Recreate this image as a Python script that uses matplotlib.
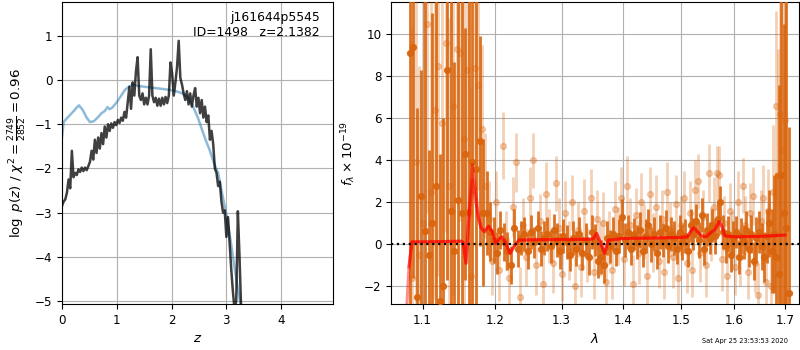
import numpy as np
import matplotlib
matplotlib.use("Agg")
import matplotlib.pyplot as plt

# ---------------- left panel: p(z) ----------------
z_grid = [0.00, 0.03, 0.06, 0.09, 0.12, 0.15, 0.18, 0.21, 0.24, 0.27,
          0.30, 0.33, 0.36, 0.39, 0.42, 0.45, 0.48, 0.51, 0.54, 0.57,
          0.60, 0.63, 0.66, 0.69, 0.72, 0.75, 0.78, 0.81, 0.84, 0.87,
          0.90, 0.93, 0.96, 0.99, 1.02, 1.05, 1.08, 1.11, 1.14, 1.17,
          1.20, 1.23, 1.26, 1.29, 1.32, 1.35, 1.38, 1.41, 1.44, 1.47,
          1.50, 1.53, 1.56, 1.59, 1.62, 1.65, 1.68, 1.71, 1.74, 1.77,
          1.80, 1.83, 1.86, 1.89, 1.92, 1.95, 1.98, 2.01, 2.04, 2.07,
          2.10, 2.13, 2.16, 2.19, 2.22, 2.25, 2.28, 2.31, 2.34, 2.37,
          2.40, 2.43, 2.46, 2.49, 2.52, 2.55, 2.58, 2.61, 2.64, 2.67,
          2.70, 2.73, 2.76, 2.79, 2.82, 2.85, 2.88, 2.91, 2.94, 2.97,
          3.00, 3.03, 3.06, 3.09, 3.12, 3.15, 3.18, 3.21, 3.24, 3.27,
          3.30]
logp_grid = [-2.85, -2.75, -2.70, -2.55, -2.25, -2.45, -1.60, -2.20, -2.10, -2.15,
             -2.02, -2.08, -1.98, -2.06, -1.98, -2.04, -1.95, -1.85, -1.60, -1.80,
             -1.35, -1.65, -1.30, -1.55, -1.20, -1.45, -1.05, -1.30, -1.00, -1.15,
             -0.98, -1.08, -0.95, -1.02, -0.90, -0.97, -0.85, -0.92, -0.72, -0.85,
             -0.50, -0.15, -0.65, -0.05, -0.35, 0.20, 0.52, -0.35, -0.45, -0.30,
             -0.55, -0.40, -0.55, -0.35, 0.70, -0.35, -0.50, -0.40, -0.58, -0.42,
             -0.58, -0.40, -0.55, -0.38, -0.52, -0.35, 0.40, 0.15, -0.35, -0.05,
             0.30, 0.89, 0.05, -0.10, -0.30, -0.45, -0.25, -0.55, -0.30, -0.60,
             -0.35, -0.18, -0.60, -0.40, -0.75, -0.45, -0.85, -0.60, -0.95, -0.80,
             -1.35, -1.15, -1.45, -2.00, -2.10, -2.40, -2.30, -2.75, -3.00, -2.95,
             -3.55, -3.10, -3.70, -4.30, -4.80, -5.20, -5.00, -2.97, -4.00, -5.20,
             -5.60]

z_templ = [0.00, 0.03, 0.10, 0.20, 0.27, 0.31, 0.38, 0.45, 0.51, 0.58,
           0.65, 0.72, 0.78, 0.83, 0.87, 0.92, 1.00, 1.08, 1.15, 1.22,
           1.30, 1.38, 1.50, 1.70, 1.90, 2.05, 2.20, 2.30, 2.40, 2.48,
           2.55, 2.62, 2.70, 2.78, 2.85, 2.92, 3.00, 3.08, 3.15, 3.22,
           3.30]
logp_templ = [-1.30, -0.95, -0.85, -0.72, -0.62, -0.57, -0.68, -0.85, -0.95, -0.93,
              -0.85, -0.75, -0.70, -0.61, -0.66, -0.62, -0.50, -0.35, -0.22, -0.15,
              -0.10, -0.13, -0.15, -0.18, -0.21, -0.24, -0.30, -0.40, -0.62, -0.85,
              -1.10, -1.35, -1.60, -1.90, -2.10, -2.55, -3.05, -3.65, -4.25, -4.80,
              -5.35]

# ---------------- right panel: spectrum ----------------
wave_a = [1.083, 1.088, 1.093, 1.098, 1.103, 1.108, 1.113, 1.118, 1.123, 1.128,
          1.133, 1.138, 1.143, 1.148, 1.153, 1.158, 1.163, 1.168, 1.173, 1.178,
          1.183, 1.188, 1.193, 1.198, 1.203, 1.208, 1.213, 1.218, 1.223, 1.228,
          1.233, 1.238, 1.243, 1.248, 1.253, 1.258, 1.263, 1.268, 1.273, 1.278,
          1.283, 1.288, 1.293, 1.298, 1.303, 1.308, 1.313, 1.318, 1.323, 1.328,
          1.333, 1.338, 1.343, 1.348, 1.353, 1.358, 1.363, 1.368, 1.373, 1.378,
          1.383, 1.388, 1.393, 1.398, 1.403, 1.408, 1.413, 1.418, 1.423, 1.428,
          1.433, 1.438, 1.443, 1.448, 1.453, 1.458, 1.463, 1.468, 1.473, 1.478,
          1.483, 1.488, 1.493, 1.498, 1.503, 1.508, 1.513, 1.518, 1.523, 1.528,
          1.533, 1.538, 1.543, 1.548, 1.553, 1.558, 1.563, 1.568, 1.573, 1.578,
          1.583, 1.588, 1.593, 1.598, 1.603, 1.608, 1.613, 1.618, 1.623, 1.628,
          1.633, 1.638, 1.643, 1.648, 1.653, 1.658, 1.663, 1.668, 1.673, 1.678,
          1.683, 1.688, 1.693, 1.698, 1.703, 1.708]
flux_a = [9.1, 9.4, -2.5, 2.3, 0.65, -0.5, 1.0, 2.8, -2.7, -2.0,
          8.3, 1.6, -0.3, 2.1, 1.5, 4.3, 1.55, 3.9, 3.6, 4.9,
          1.5, 1.5, 0.6, 0.2, -0.4, 0.7, 0.1, -0.3, -1.0, 0.8,
          -0.2, 0.3, 0.5, -0.3, 0.6, 0.1, 0.8, -0.2, 0.3, 0.5,
          -0.1, 0.7, 0.2, -0.3, 0.4, 0.1, -0.5, 0.3, -0.2, 0.5,
          -0.4, 0.2, -0.6, 0.6, 0.2, -0.8, -0.6, -1.0, 0.3, -0.1,
          0.5, -0.3, 0.4, 1.3, 0.2, 0.6, -0.2, 0.5, 0.1, 0.7,
          -0.3, 0.4, 0.9, 0.0, 0.5, -0.4, 0.6, 0.2, 0.8, -0.1,
          0.5, 0.3, -0.2, 0.6, 0.1, 0.4, -0.3, 0.9, 0.5, 1.1,
          0.2, 1.4, -0.2, 0.7, 0.3, 0.9, 0.4, 1.2, 2.0, 0.6,
          -0.1, 0.5, -0.5, 0.3, 0.6, -0.6, 0.4, 0.1, 0.7, -0.2,
          0.5, -0.8, 0.3, 0.6, -0.1, -0.6, 0.4, 1.0, -0.3, 0.5,
          -0.6, -1.4, 3.3, 1.5, 0.8, -2.3]
err_a = [14, 11, 9, 6, 12, 5, 10, 13, 7, 8,
         10, 12, 9, 10, 14, 6, 12, 9, 8, 5,
         3.5, 2.0, 1.4, 1.1, 1.0, 0.9, 0.9, 0.9, 0.9, 0.9,
         0.9, 0.8, 0.8, 0.85, 0.8, 0.75, 0.8, 0.85, 0.8, 0.8,
         0.8, 0.75, 0.8, 0.85, 0.8, 0.8, 0.75, 0.8, 0.85, 0.8,
         0.8, 0.8, 0.85, 0.8, 0.75, 0.8, 0.8, 0.85, 0.8, 0.8,
         0.8, 0.75, 0.8, 0.85, 0.8, 0.8, 0.8, 0.75, 0.8, 0.85,
         0.8, 0.8, 0.8, 0.85, 0.8, 0.75, 0.8, 0.8, 0.85, 0.8,
         0.8, 0.8, 0.75, 0.8, 0.85, 0.8, 0.8, 0.8, 0.75, 0.8,
         0.85, 0.8, 0.8, 0.8, 0.75, 0.8, 0.85, 0.8, 0.8, 0.8,
         0.8, 0.85, 0.8, 0.8, 0.75, 0.8, 0.85, 0.8, 0.9, 0.9,
         0.9, 0.9, 1.0, 1.0, 1.1, 1.2, 1.3, 1.6, 2.0, 2.8,
         4.0, 9.0, 11.0, 9.0, 12.0, 7.9]

wave_b = [1.086, 1.091, 1.096, 1.101, 1.106, 1.111, 1.116, 1.121, 1.126, 1.131,
          1.136, 1.141, 1.146, 1.151, 1.156, 1.161, 1.166, 1.171, 1.176, 1.181,
          1.186, 1.191, 1.196, 1.201, 1.206, 1.211, 1.216, 1.221, 1.226, 1.231,
          1.236, 1.241, 1.246, 1.251, 1.256, 1.261, 1.266, 1.271, 1.276, 1.281,
          1.286, 1.291, 1.296, 1.301, 1.306, 1.311, 1.316, 1.321, 1.326, 1.331,
          1.336, 1.341, 1.346, 1.351, 1.356, 1.361, 1.366, 1.371, 1.376, 1.381,
          1.386, 1.391, 1.396, 1.401, 1.406, 1.411, 1.416, 1.421, 1.426, 1.431,
          1.436, 1.441, 1.446, 1.451, 1.456, 1.461, 1.466, 1.471, 1.476, 1.481,
          1.486, 1.491, 1.496, 1.501, 1.506, 1.511, 1.516, 1.521, 1.526, 1.531,
          1.536, 1.541, 1.546, 1.551, 1.556, 1.561, 1.566, 1.571, 1.576, 1.581,
          1.586, 1.591, 1.596, 1.601, 1.606, 1.611, 1.616, 1.621, 1.626, 1.631,
          1.636, 1.641, 1.646, 1.651, 1.656, 1.661, 1.666, 1.671, 1.676, 1.681,
          1.686, 1.691, 1.696, 1.701]
flux_b = [-1.6, 3.9, -0.5, 1.0, 10.5, 2.5, 6.4, 8.5, 5.8, 9.6,
          2.8, 6.6, 9.3, 9.1, 5.0, 8.3, -1.5, 8.4, 7.6, 5.5,
          2.8, 1.2, -0.8, 2.0, -1.2, 4.7, 0.2, -1.6, 1.8, 3.9,
          -2.5, 0.9, -0.6, 2.2, 4.0, -1.0, 1.1, -1.9, 2.4, 0.4,
          -0.9, 2.9, 0.8, -1.4, 1.5, -0.3, 2.0, -2.0, 0.7, -1.1,
          1.6, -0.5, 2.2, -1.3, 1.2, -0.2, 1.0, -1.8, 0.3, -1.2,
          1.7, 0.4, 2.2, -0.7, 2.8, 0.9, -1.9, 1.4, -0.4, 2.0,
          0.6, -1.5, 2.4, 0.1, 1.8, -0.8, 1.2, -1.3, 2.5, 0.7,
          -0.6, 1.9, -1.6, 0.9, 2.2, -0.9, 1.5, -1.2, 2.6, 3.0,
          -0.4, 1.3, -1.0, 3.4, 0.5, 1.8, 3.4, 3.3, -0.7, 1.0,
          -1.5, 1.6, 0.2, -1.1, 2.0, -0.6, 2.8, 0.9, -1.3, 1.5,
          2.3, -0.9, -2.4, 1.1, 2.2, -1.8, 1.6, -2.0, 2.5, 6.6,
          3.3, 6.2, 4.5, 5.9]
err_b = [12, 10, 9, 11, 9, 10, 9, 10, 8, 9,
         8, 9, 7, 8, 8, 7, 9, 6, 5, 4,
         2.5, 1.8, 1.6, 1.5, 1.5, 1.6, 1.4, 1.4, 1.4, 1.4,
         1.4, 1.3, 1.4, 1.5, 1.3, 1.4, 1.3, 1.4, 1.5, 1.3,
         1.4, 1.3, 1.4, 1.3, 1.5, 1.4, 1.3, 1.4, 1.3, 1.4,
         1.5, 1.3, 1.4, 1.3, 1.4, 1.3, 1.5, 1.4, 1.3, 1.4,
         1.3, 1.4, 1.5, 1.3, 1.4, 1.3, 1.4, 1.3, 1.5, 1.4,
         1.3, 1.4, 1.3, 1.4, 1.5, 1.3, 1.4, 1.3, 1.4, 1.3,
         1.5, 1.4, 1.3, 1.4, 1.3, 1.4, 1.5, 1.3, 1.4, 1.3,
         1.4, 1.3, 1.5, 1.4, 1.3, 1.4, 1.3, 1.4, 1.5, 1.3,
         1.4, 1.3, 1.4, 1.3, 1.5, 1.4, 1.3, 1.4, 1.3, 1.4,
         1.4, 1.4, 1.5, 1.5, 1.6, 1.7, 2.0, 2.5, 3.2, 4.5,
         6.0, 7.0, 8.0, 10.0]

model_wave = [1.0795, 1.0823, 1.086, 1.100, 1.120, 1.140, 1.152, 1.155, 1.159, 1.163,
              1.168, 1.172, 1.176, 1.180, 1.185, 1.191, 1.196, 1.201, 1.206, 1.210,
              1.215, 1.222, 1.228, 1.235, 1.260, 1.300, 1.340, 1.350, 1.356, 1.362,
              1.369, 1.375, 1.400, 1.450, 1.500, 1.512, 1.519, 1.524, 1.530, 1.538,
              1.546, 1.555, 1.563, 1.571, 1.576, 1.582, 1.600, 1.650, 1.700]
model_a = [np.nan, -1.07, 0.12, 0.12, 0.13, 0.14, 0.15, 0.10, -0.90, 1.20,
           3.06, 2.20, 1.30, 0.80, 0.60, 0.87, 0.60, 0.05, 0.25, 0.36,
           0.10, -0.43, -0.10, 0.20, 0.22, 0.23, 0.24, 0.26, 0.52, 0.10,
           -0.43, 0.20, 0.28, 0.30, 0.33, 0.36, 0.65, 0.79, 0.62, 0.40,
           0.36, 0.55, 0.70, 1.08, 0.85, 0.40, 0.36, 0.38, 0.44]
model_b = [-2.90, -1.07, 0.12, 0.12, 0.13, 0.14, 0.15, 0.10, -0.90, 1.60,
           3.80, 2.80, 1.40, 0.80, 0.60, 0.87, 0.60, 0.05, 0.25, 0.36,
           0.10, -0.43, -0.10, 0.20, 0.22, 0.23, 0.24, 0.26, 0.52, 0.10,
           -0.43, 0.20, 0.28, 0.30, 0.33, 0.36, 0.65, 0.79, 0.62, 0.40,
           0.36, 0.55, 0.70, 1.08, 0.85, 0.40, 0.36, 0.38, 0.44]

x_ticks = [1.1, 1.2, 1.3, 1.4, 1.5, 1.6, 1.7]
x_ticklabels = ["1.1", "1.2", "1.3", "1.4", "1.5", "1.6", "1.7"]

FS = 8.6
plt.rcParams['font.size'] = FS

fig = plt.figure(figsize=(8, 3.5), dpi=100)
ax1 = fig.add_axes([0.0775, 0.1314, 0.339, 0.863])
ax2 = fig.add_axes([0.489, 0.1314, 0.5095, 0.863])

# left
ax1.plot(z_templ, logp_templ, color='#1f77b4', alpha=0.5, lw=1.8, zorder=2)
ax1.plot(z_grid, logp_grid, color='k', alpha=0.75, lw=1.8, zorder=3)
ax1.set_xlim(0, 4.95)
ax1.set_ylim(-5.07, 1.77)
ax1.set_xticks([0, 1, 2, 3, 4])
ax1.set_yticks([-5, -4, -3, -2, -1, 0, 1])
ax1.grid(True, color='#b0b0b0', lw=0.8)
ax1.set_axisbelow(True)
ax1.set_xlabel(r'$z$', fontsize=FS + 1)
ax1.set_ylabel(r'$\log\ p(z)$ / $\chi^2=\frac{2749}{2852}=0.96$', fontsize=FS + 1)
ax1.text(0.95, 0.97, 'j161644p5545\nID=1498   z=2.1382', transform=ax1.transAxes,
         ha='right', va='top', fontsize=FS + 0.3)

# right
orange = '#d9650d'
ax2.errorbar(wave_b, flux_b, yerr=err_b, fmt='o', color=orange, ms=4.2,
             elinewidth=2.0, alpha=0.3, zorder=3, capsize=0)
ax2.errorbar(wave_a, flux_a, yerr=err_a, fmt='o', color=orange, ms=4.2,
             elinewidth=2.0, alpha=0.9, zorder=4, capsize=0)
ax2.plot(model_wave, model_b, color='r', alpha=0.45, lw=2.2, zorder=5)
ax2.plot(model_wave, model_a, color='r', alpha=0.55, lw=2.2, zorder=5)
ax2.axhline(0, color='k', ls=':', lw=1.6, zorder=6)
ax2.set_xscale('log')
ax2.set_xlim(1.0594, 1.7287)
ax2.set_ylim(-2.84, 11.54)
ax2.set_xticks(x_ticks)
ax2.set_xticklabels(x_ticklabels)
ax2.xaxis.set_minor_locator(matplotlib.ticker.NullLocator())
ax2.set_yticks([-2, 0, 2, 4, 6, 8, 10])
ax2.grid(True, color='#b0b0b0', lw=0.8)
ax2.set_axisbelow(True)
ax2.set_xlabel(r'$\lambda$', fontsize=FS + 1)
ax2.set_ylabel(r'$f_\lambda \times 10^{-19}$', fontsize=FS + 1)

fig.text(0.985, 0.018, 'Sat Apr 25 23:53:53 2020', ha='right', va='bottom', fontsize=4.8)

fig.savefig('out.png', dpi=100)
